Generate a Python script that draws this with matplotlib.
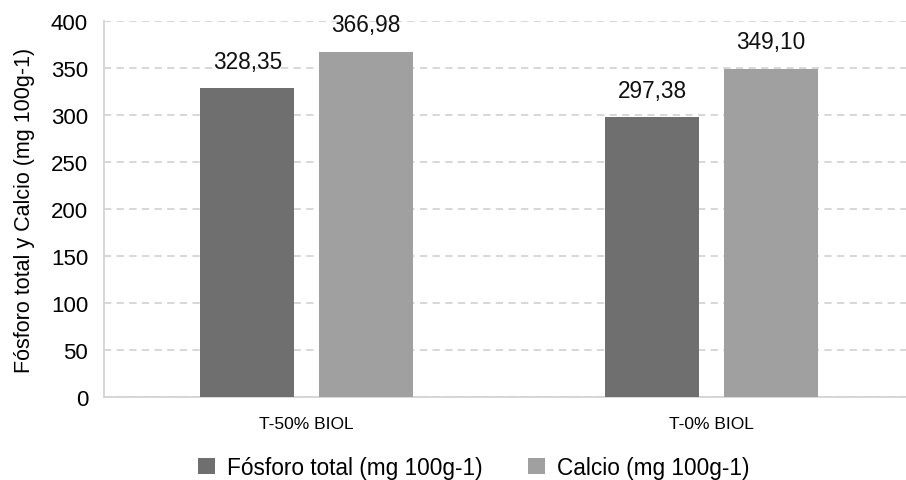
import numpy as np
import matplotlib.pyplot as plt

plt.rcParams['font.family'] = ['Liberation Sans', 'DejaVu Sans']

categorias = ['T-50% BIOL', 'T-0% BIOL']
fosforo = [328.35, 297.38]
calcio = [366.98, 349.10]
series = ['Fósforo total (mg 100g-1)', 'Calcio (mg 100g-1)']
colores = ['#6f6f6f', '#a0a0a0']

fig = plt.figure(figsize=(9.06, 4.81), dpi=100)
ax = fig.add_axes([104 / 906, 83 / 481, 810 / 906, 376 / 481])

x = np.arange(len(categorias))
w = 0.232
off = 0.146
for vals, dx, c, lab in zip([fosforo, calcio], [-off, off], colores, series):
    bars = ax.bar(x + dx, vals, w, color=c, label=lab, zorder=3)
    for b, v in zip(bars, vals):
        ax.annotate(f'{v:.2f}'.replace('.', ','), (b.get_x() + b.get_width() / 2, v),
                    xytext=(0, 15), textcoords='offset points',
                    ha='center', va='baseline', fontsize=16.3, color='#111111')

ax.set_xlim(-0.5, 1.5)
ax.set_ylim(0, 400)
ax.set_yticks(np.arange(0, 401, 50))
ax.set_xticks(x)
ax.set_xticklabels(categorias, fontsize=12.5)
ax.tick_params(axis='y', labelsize=16, length=0, pad=11.5)
ax.tick_params(axis='x', length=0, pad=14)
ax.yaxis.grid(True, linestyle=(0, (4, 3)), color='#d4d4d4', linewidth=1.3, zorder=0)
for s in ['top', 'right']:
    ax.spines[s].set_visible(False)
for s in ['left', 'bottom']:
    ax.spines[s].set_color('#d4d4d4')
    ax.spines[s].set_linewidth(1.3)
ax.set_ylabel('Fósforo total y Calcio (mg 100g-1)', fontsize=15.5, labelpad=11)

fig.legend(loc='lower center', bbox_to_anchor=(0.523, -0.04), ncol=2, frameon=False,
           fontsize=16.3, handlelength=0.75, handleheight=0.75, columnspacing=2.0, handletextpad=0.55)

fig.savefig('out.png', dpi=100)
